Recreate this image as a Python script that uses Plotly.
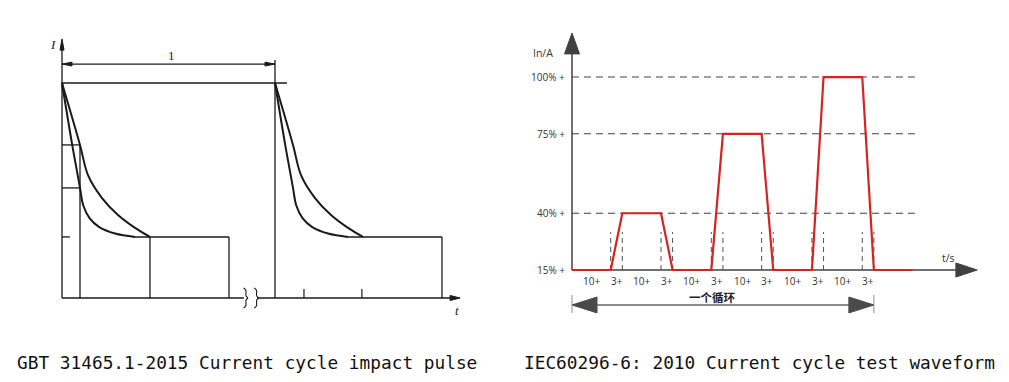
import plotly.graph_objects as go

# ---------------- data: left chart (GBT 31465.1-2015, schematic units) ----------------
# time in periods (one impact period = 1), current relative to peak (peak = 1)
inner_t = [0.0, 0.048, 0.0845, 0.100, 0.130, 0.175, 0.249, 0.343]
inner_i = [1.0, 0.712, 0.512, 0.430, 0.370, 0.330, 0.300, 0.284]
outer_t = [0.0, 0.0845, 0.122, 0.188, 0.263, 0.343, 0.413]
outer_i = [1.0, 0.712, 0.572, 0.465, 0.386, 0.326, 0.284]
hold_level = 0.284
hold_end = 0.784
pulse_starts = [0.0, 1.0]
mark_t = 0.0845
mark_levels = [0.712, 0.512]
axis_ticks_t = [1.136, 1.408]
period_label = "1"

# ---------------- data: right chart (IEC60296-6:2010 cycle) ----------------
cycle_t = [0, 10, 13, 23, 26, 36, 39, 49, 52, 62, 65, 75, 78, 88]
cycle_pct = [15, 15, 40, 40, 15, 15, 75, 75, 15, 15, 100, 100, 15, 15]
level_pct = [15, 40, 75, 100]
level_labels = ["15% +", "40% +", "75% +", "100% +"]
seg_mid_t = [5, 11.5, 18, 24.5, 31, 37.5, 44, 50.5, 57, 63.5, 70, 76.5]
seg_labels = ["10+", "3+", "10+", "3+", "10+", "3+", "10+", "3+", "10+", "3+", "10+", "3+"]
transition_t = [10, 13, 23, 26, 36, 39, 49, 52, 62, 65, 75, 78]
cycle_label = "一个循环"

captions = ["GBT 31465.1-2015 Current cycle impact pulse",
            "IEC60296-6: 2010 Current cycle test waveform"]

W, H = 1009, 382
fig = go.Figure()


def line(xs, ys, ax, color, width, dash="solid", shape="linear", fill=None):
    xa, ya = ("x", "y") if ax == 1 else ("x2", "y2")
    fig.add_trace(go.Scatter(
        x=xs, y=ys, xaxis=xa, yaxis=ya, mode="lines",
        line=dict(color=color, width=width, dash=dash, shape=shape),
        fill=fill, fillcolor=color if fill else None,
        hoverinfo="skip", showlegend=False))


# ======== LEFT CHART ========
K = "#1a1a1a"
# axes
line([0, 0], [0, 1.153], 1, K, 1.3)
line([-0.0094, 0, 0.0094, -0.0094], [1.153, 1.205, 1.153, 1.153], 1, K, 1, fill="toself")
line([0, 0.854], [0, 0], 1, K, 1.3)
line([0.916, 1.822], [0, 0], 1, K, 1.3)
line([1.822, 1.869, 1.822, 1.822], [0.0116, 0, -0.0116, 0.0116], 1, K, 1, fill="toself")
# axis break braces
for off in [0.0, 0.05]:
    bt = [0.852, 0.863, 0.864, 0.872, 0.864, 0.863, 0.852]
    bi = [0.047, 0.036, 0.01, 0.0, -0.01, -0.036, -0.047]
    line([v + off for v in bt], bi, 1, K, 1.1, shape="spline")
# peak line and period dimension
line([0, 1.056], [1.0, 1.0], 1, K, 1.3)
line([1.0, 1.0], [0, 1.107], 1, K, 1.3)
line([0, 1.0], [1.088, 1.088], 1, K, 1.2)
line([0, 0.047, 0.047, 0], [1.088, 1.097, 1.079, 1.088], 1, K, 1, fill="toself")
line([1.0, 0.953, 0.953, 1.0], [1.088, 1.097, 1.079, 1.088], 1, K, 1, fill="toself")
# pulses
for p in pulse_starts:
    line([p + v for v in inner_t], inner_i, 1, K, 2.0, shape="spline")
    line([p + inner_t[-1], p + hold_end], [hold_level, hold_level], 1, K, 1.6)
    line([p + v for v in outer_t], outer_i, 1, K, 2.0, shape="spline")
    line([p + hold_end, p + hold_end], [hold_level, 0], 1, K, 1.3)
# first pulse construction lines
line([mark_t, mark_t], [0, mark_levels[0]], 1, K, 1.3)
for lv in mark_levels:
    line([0, mark_t], [lv, lv], 1, K, 1.3)
line([0, 0.038], [hold_level, hold_level], 1, K, 1.3)
line([outer_t[-1], outer_t[-1]], [0, hold_level], 1, K, 1.3)
for tt in axis_ticks_t:
    line([tt, tt], [0, 0.042], 1, K, 1.2)

left_ann = [
    dict(x=-0.042, y=1.177, text="<i>I</i>"),
    dict(x=0.516, y=1.13, text=period_label),
    dict(x=1.854, y=-0.06, text="<i>t</i>"),
]

# ======== RIGHT CHART ========
G = "#404040"
for lv in level_pct[1:]:
    line([0, 88.6], [lv, lv], 2, G, 1.1, dash="7px,5px")
for tt in transition_t:
    line([tt, tt], [15, 31.7], 2, "#505050", 1, dash="5px,4px")
line([0, 0], [15, 110.2], 2, G, 1.5)
line([-1.94, 0, 1.94, -1.94], [110.2, 119.4, 110.2, 110.2], 2, G, 1, fill="toself")
line([0, 99.2], [15, 15], 2, G, 1.5)
line([99.2, 104.7, 99.2, 99.2], [18.1, 15, 11.9, 18.1], 2, G, 1, fill="toself")
line(cycle_t, cycle_pct, 2, "#d42323", 2.2)
# one-cycle arrow
line([0, 78], [-0.4, -0.4], 2, "#8c8c8c", 2)
line([0, 6.46, 6.46, 0], [-0.4, 3.1, -3.9, -0.4], 2, "#4a4a4a", 1, fill="toself")
line([78, 71.54, 71.54, 78], [-0.4, 3.1, -3.9, -0.4], 2, "#4a4a4a", 1, fill="toself")
line([0, 0], [4.0, -3.9], 2, "#8c8c8c", 1)
line([78, 78], [4.0, -3.9], 2, "#8c8c8c", 1)

annotations = []
for a in left_ann:
    annotations.append(dict(xref="x", yref="y", showarrow=False,
                            font=dict(family="Liberation Serif", size=13, color=K), **a))
for lv, lab in zip(level_pct, level_labels):
    annotations.append(dict(xref="x2", yref="y2", x=-1.2, y=lv, text=lab, showarrow=False,
                            xanchor="right", font=dict(family="Open Sans", size=10, color="#333")))
for tt, lab in zip(seg_mid_t, seg_labels):
    annotations.append(dict(xref="x2", yref="y2", x=tt, y=10.2, text=lab, showarrow=False,
                            font=dict(family="Open Sans", size=10, color="#333")))
annotations.append(dict(xref="x2", yref="y2", x=-7.5, y=110.6, text="In/A", showarrow=False,
                        font=dict(family="Open Sans", size=10.5, color="#333")))
annotations.append(dict(xref="x2", yref="y2", x=97.2, y=20.3, text="t/s", showarrow=False,
                        font=dict(family="Open Sans", size=10.5, color="#333")))
annotations.append(dict(xref="x2", yref="y2", x=36.4, y=3.3, text="<b>" + cycle_label + "</b>",
                        showarrow=False, font=dict(family="Noto Sans CJK SC", size=11.5, color="#222")))
for xp, cap in zip([15, 522], captions):
    annotations.append(dict(xref="paper", yref="paper", x=xp / W, y=1 - 362 / H, text=cap,
                            showarrow=False, xanchor="left", yanchor="middle",
                            font=dict(family="DejaVu Sans Mono", size=17.8, color="#111")))

ax_off = dict(visible=False, fixedrange=True)
fig.update_layout(
    width=W, height=H, margin=dict(l=0, r=0, t=0, b=0),
    paper_bgcolor="white", plot_bgcolor="white",
    xaxis=dict(domain=[0, 500 / W], range=[-62 / 213, 438 / 213], **ax_off),
    yaxis=dict(domain=[1 - 330 / H, 1 - 20 / H], range=[-32 / 215, 278 / 215], **ax_off),
    xaxis2=dict(domain=[505 / W, 1005 / W], range=[-67 / 3.87, 433 / 3.87], **ax_off),
    yaxis2=dict(domain=[1 - 330 / H, 1 - 20 / H], range=[15 - 60 / 2.27, 15 + 250 / 2.27], **ax_off),
    annotations=annotations,
)
fig.write_html("out.html", config={"displayModeBar": False},
               post_script="document.body.style.margin='0';")
